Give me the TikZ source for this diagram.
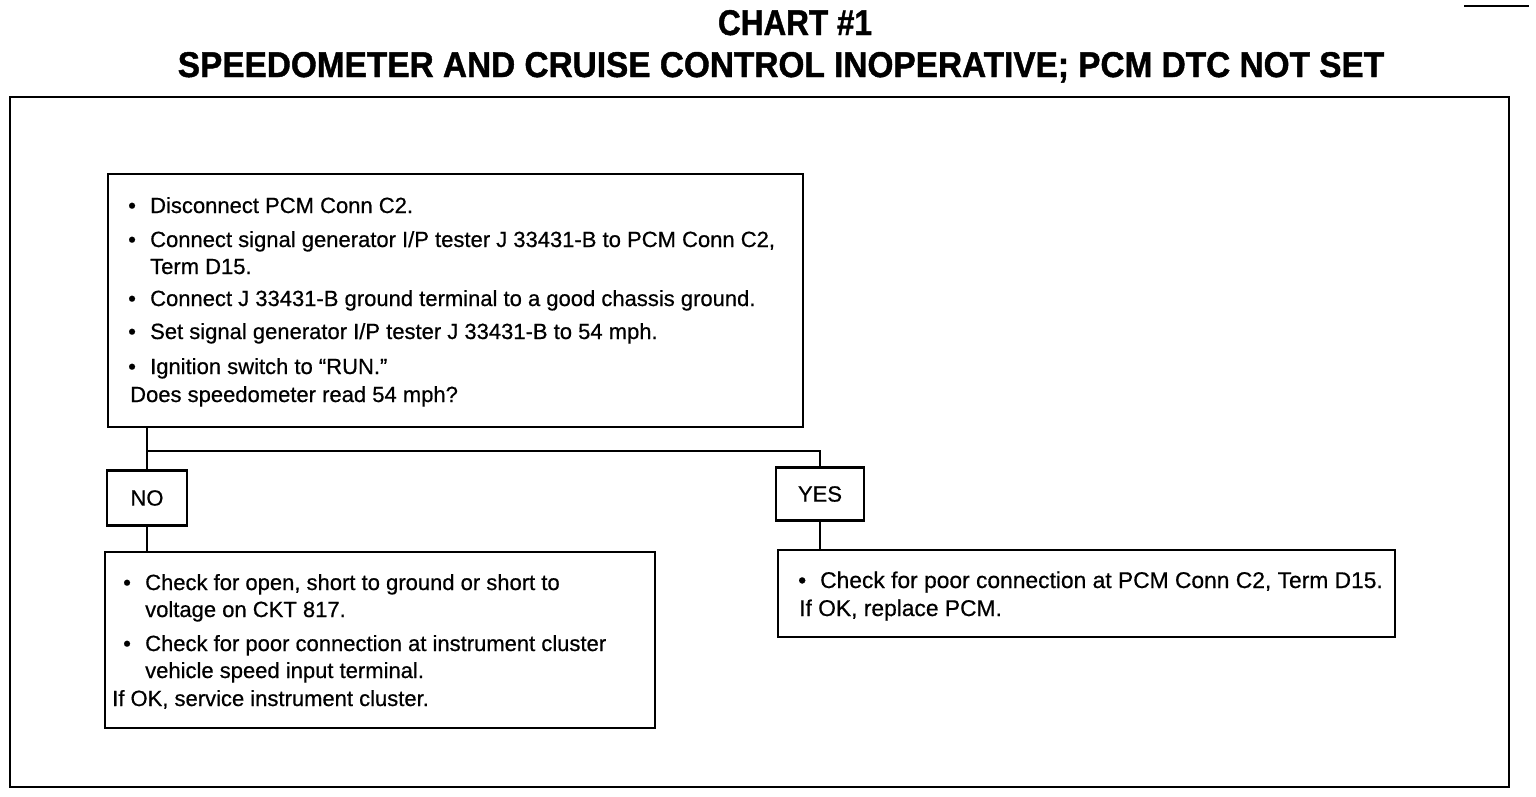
\documentclass[tikz,border=0pt]{standalone}
\usepackage{fontspec}
\setmainfont[FakeBold=0.6]{Liberation Sans}
\newfontfamily\ttlfont[FakeBold=1.2]{Liberation Sans}
\begin{document}
\begin{tikzpicture}[x=1pt,y=-1pt,
  box/.style={draw,line width=2.2pt,rectangle,inner sep=0pt,outer sep=0pt,anchor=north west},
  lbl/.style={draw,line width=2.2pt,rectangle,inner sep=0pt,outer sep=0pt,font=\fontsize{22}{22}\selectfont},
  txt/.style={anchor=base west,inner sep=0pt,font=\fontsize{22}{22}\selectfont},
  wtxt/.style={anchor=base west,inner sep=0pt,font=\fontsize{22.8}{22.8}\selectfont},
  wire/.style={line width=2.6pt},
  ttl/.style={anchor=base,inner sep=0pt,font=\ttlfont\bfseries}]
\useasboundingbox (0,0) rectangle (1536,796);
% title
\node[ttl] (title) at (795,35) {\resizebox{154pt}{25pt}{CHART \#1}};
\node[ttl] (sub) at (781,77) {\resizebox{1206pt}{25pt}{SPEEDOMETER AND CRUISE CONTROL INOPERATIVE; PCM DTC NOT SET}};
\draw[line width=2.5pt] (1464,6) -- (1529,6);
% frame
\node[box,minimum width=1499pt,minimum height=690pt] (frame) at (10,97) {};
% question box
\node[box,minimum width=695pt,minimum height=253pt] (q) at (108,174) {};
\node[txt] (q1) at (128,213) {\makebox[22pt][l]{\textbullet}Disconnect PCM Conn C2.};
\node[txt] (q2) at (128,247) {\makebox[22pt][l]{\textbullet}Connect signal generator I/P tester J 33431-B to PCM Conn C2,};
\node[txt] (q3) at (150,274) {Term D15.};
\node[txt] (q4) at (128,306) {\makebox[22pt][l]{\textbullet}Connect J 33431-B ground terminal to a good chassis ground.};
\node[txt] (q5) at (128,339) {\makebox[22pt][l]{\textbullet}Set signal generator I/P tester J 33431-B to 54 mph.};
\node[txt] (q6) at (128,374) {\makebox[22pt][l]{\textbullet}Ignition switch to “RUN.”};
\node[txt] (q7) at (130,402) {Does speedometer read 54 mph?};
% NO / YES
\node[lbl,minimum width=80pt,minimum height=55pt] (no) at (147,498) {NO};
\node[lbl,minimum width=88pt,minimum height=53pt] (yes) at (820,494) {YES};
\coordinate (j) at (147,451);
\draw[wire] (q.south -| no.north) -- (no.north);
\draw[wire] (j) -| (yes.north);
% result boxes
\node[box,minimum width=550pt,minimum height=176pt] (nor) at (105,552) {};
\node[txt] (n1) at (123,590) {\makebox[22pt][l]{\textbullet}Check for open, short to ground or short to};
\node[txt] (n2) at (145,617) {voltage on CKT 817.};
\node[txt] (n3) at (123,651) {\makebox[22pt][l]{\textbullet}Check for poor connection at instrument cluster};
\node[txt] (n4) at (145,678) {vehicle speed input terminal.};
\node[txt] (n5) at (112,706) {If OK, service instrument cluster.};
\node[box,minimum width=617pt,minimum height=87pt] (yesr) at (778,550) {};
\node[wtxt] (y1) at (798,588) {\makebox[22pt][l]{\textbullet}Check for poor connection at PCM Conn C2, Term D15.};
\node[wtxt] (y2) at (799,616) {If OK, replace PCM.};
\draw[wire] (no.south) -- (no.south |- nor.north);
\draw[wire] (yes.south) -- (yes.south |- yesr.north);
\end{tikzpicture}
\end{document}
